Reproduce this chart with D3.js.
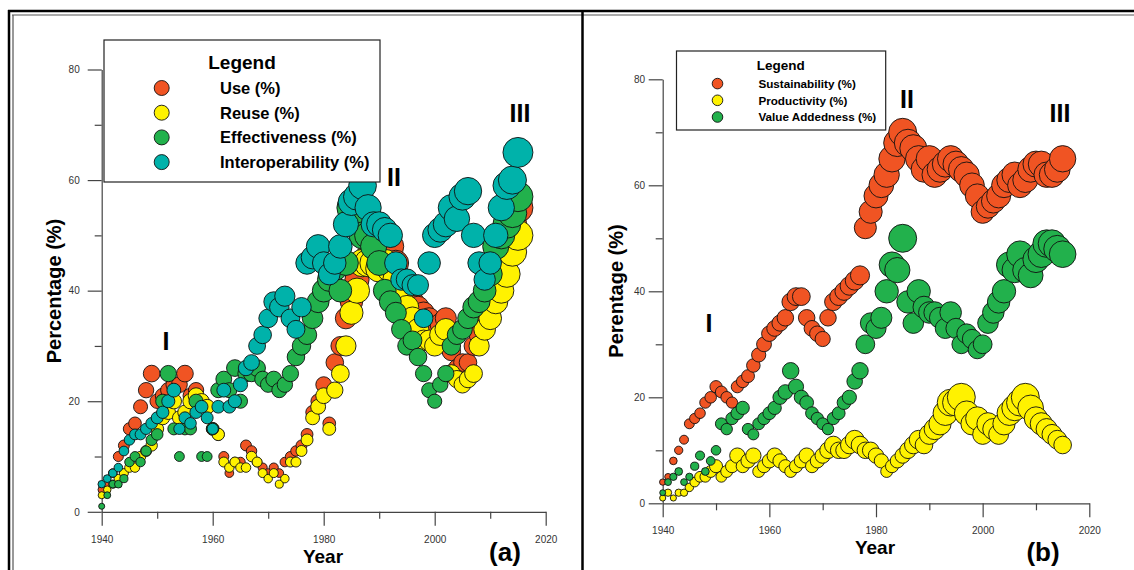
<!DOCTYPE html>
<html>
<head>
<meta charset="utf-8">
<script src="https://cdn.jsdelivr.net/npm/d3@7"></script>
<style>
  body { margin: 0; background: #fff; }
  svg { display: block; font-family: "Liberation Sans", Arial, sans-serif; }
</style>
</head>
<body>
<script>
// one bubble per year, 1940 - 2015
const years = d3.range(1940, 2016)

// panel (a)
const useVals = [4,5,7,10,12,15,16,19,22,25, 20,21,22,23,23,25,21,22,20,19, 15,14,10,7,9,9,12,11,9,8,
  7,8,7,9,10,11,12,14,18,20, 23,16,27,30,35,38,42,45,46,46, 47,47,48,45,42,40,38,37,36,35,
  33,34,35,29,26,27,27,30,32,34, 37,42,46,50,52,55]
const reuseVals = [3,4,5,6,7,8,8,10,11,12, 15,17,18,20,17,18,20,21,20,19, 15,14,9,8,9,8,8,10,9,7,
  6,7,5,6,9,9,11,13,17,19, 21,15,22,25,30,36,40,45,45,45, 44,45,44,42,40,37,35,33,31,31,
  30,32,33,25,24,23,24,25,30,33, 35,38,40,43,47,50]
const effVals = [1,3,5,5,6,9,10,9,11,13, 14,20,25,15,10,15,15,20,10,10, 15,22,24,22,26,20,25,25,26,24,
  23,24,22,23,25,28,30,32,35,38, 40,42,44,40,45,55,53,50,50,48, 45,40,38,36,33,30,31,28,25,22,
  20,23,25,30,32,33,35,37,38,40, 43,48,50,52,54,57]
const interVals = [5,6,7,8,11,13,14,14,15,16, 17,18,20,22,15,17,16,18,19,17, 15,19,22,19,20,23,26,27,30,32,
  35,38,37,39,35,33,37,45,46,48, 45,43,45,48,52,56,57,59,55,52, 52,51,50,45,42,42,41,41,35,45,
  50,51,52,55,53,57,58,50,45,42, 45,50,55,59,60,65]

// panel (b)
const sustVals = [4,5,8,10,12,15,16,17,19,20, 22,21,20,19,22,23,24,26,28,30, 32,33,34,35,38,39,39,35,33,32,
  31,35,38,39,40,41,42,43,52,55, 58,60,62,65,68,70,68,67,65,63, 65,62,63,64,65,64,63,62,60,58,
  55,56,57,58,60,61,62,60,61,63, 64,64,62,62,63,65]
const prodVals = [1,2,1,2,2,3,4,5,5,6, 7,5,6,7,9,7,8,9,6,7, 8,9,8,7,6,7,8,9,7,8,
  9,10,11,10,10,11,12,11,10,10, 9,8,6,7,8,9,10,11,12,11, 13,14,15,17,19,19,20,17,15,16,
  13,15,14,13,15,17,18,19,20,18, 16,15,14,13,12,11]
const valueVals = [2,4,5,6,4,5,7,9,6,8, 10,15,14,16,17,18,14,13,15,16, 17,18,20,21,25,22,20,19,17,16,
  15,14,16,17,19,20,23,25,30,34, 33,35,40,45,44,50,38,34,40,37, 36,36,35,33,36,33,30,32,31,29,
  30,34,36,38,40,45,44,47,44,43, 46,47,49,49,48,47]

const xMajor = [1940, 1960, 1980, 2000, 2020]
const xMinor = [1950, 1970, 1990, 2010]
const yMajor = [0, 20, 40, 60, 80]
const yMinor = [10, 30, 50, 70]

const red = '#f05423', yellow = '#fff200', green = '#22b14c', teal = '#00b2aa'

const width = 1134
const height = 570
const svg = d3.select('body').append('svg').attr('width', width).attr('height', height)

// frame lines
svg.append('line').attr('x1', 8).attr('x2', width).attr('y1', 11).attr('y2', 11).attr('stroke', '#000').attr('stroke-width', 2.5)
svg.append('line').attr('x1', 12).attr('x2', width).attr('y1', 15).attr('y2', 15).attr('stroke', '#555').attr('stroke-width', 1.2)
svg.append('line').attr('x1', 9).attr('x2', 9).attr('y1', 10).attr('y2', height).attr('stroke', '#000').attr('stroke-width', 2.5)
svg.append('line').attr('x1', 13).attr('x2', 13).attr('y1', 15).attr('y2', height).attr('stroke', '#555').attr('stroke-width', 1.2)
svg.append('line').attr('x1', 582.5).attr('x2', 582.5).attr('y1', 10).attr('y2', height).attr('stroke', '#000').attr('stroke-width', 2.5)

const drawPanel = (p) => {
  const x = d3.scaleLinear().domain([1940, 2020]).range([p.left, p.right])
  const y = d3.scaleLinear().domain([0, 80]).range([p.bottom, p.top])
  const g = svg.append('g')

  const styleAxis = (a) => {
    a.selectAll('path, line').attr('stroke', '#444').attr('stroke-width', 1.2)
    a.selectAll('text').attr('font-size', 10).attr('fill', '#333').attr('font-family', '"Liberation Sans", Arial, sans-serif')
  }

  g.append('g').attr('transform', `translate(0,${p.bottom})`)
    .call(d3.axisBottom(x).tickValues(xMajor).tickSize(14).tickSizeOuter(0).tickPadding(10).tickFormat(d3.format('d')))
    .call(styleAxis)
  g.append('g').attr('transform', `translate(0,${p.bottom})`)
    .call(d3.axisBottom(x).tickValues(xMinor).tickSize(7).tickSizeOuter(0).tickFormat(''))
    .call(a => a.select('.domain').remove())
    .call(styleAxis)
  g.append('g').attr('transform', `translate(${p.left},0)`)
    .call(d3.axisLeft(y).tickValues(yMajor).tickSize(14).tickSizeOuter(0).tickPadding(p.yPad))
    .call(styleAxis)
  g.append('g').attr('transform', `translate(${p.left},0)`)
    .call(d3.axisLeft(y).tickValues(yMinor).tickSize(7).tickSizeOuter(0).tickFormat(''))
    .call(a => a.select('.domain').remove())
    .call(styleAxis)

  // bubbles, size grows with the value inside each series
  p.series.forEach((s) => {
    const r = d3.scaleLinear().domain([0, d3.max(s.values)]).range(p.rRange)
    g.append('g').selectAll('circle')
      .data(years.map((yr, i) => ({ yr: yr, v: s.values[i] })))
      .enter().append('circle')
      .attr('cx', (d) => x(d.yr))
      .attr('cy', (d) => y(d.v))
      .attr('r', (d) => r(d.v))
      .attr('fill', s.color)
      .attr('stroke', '#111')
      .attr('stroke-width', 0.9)
  })

  // axis titles
  g.append('text').text('Year').attr('x', p.yearX).attr('y', p.yearY)
    .attr('text-anchor', 'middle').attr('font-size', 19).attr('font-weight', 'bold')
  g.append('text').text(p.yTitle)
    .attr('transform', `translate(${p.yTitleX},${p.yTitleY}) rotate(-90)`)
    .attr('text-anchor', 'middle').attr('font-size', 20).attr('font-weight', 'bold')
  g.append('text').text(p.tag).attr('x', p.tagX).attr('y', 561)
    .attr('text-anchor', 'middle').attr('font-size', 26).attr('font-weight', 'bold')

  // phase marks
  p.marks.forEach((m) => {
    g.append('text').text(m.t).attr('x', m.x).attr('y', m.y + 9)
      .attr('text-anchor', 'middle').attr('font-size', 25).attr('font-weight', 'bold')
  })

  // legend
  const L = p.legend
  g.append('rect').attr('x', L.x0).attr('y', L.y0).attr('width', L.x1 - L.x0).attr('height', L.y1 - L.y0)
    .attr('fill', '#fff').attr('stroke', '#222').attr('stroke-width', 1.2)
  g.append('text').text('Legend').attr('x', L.titleX).attr('y', L.titleY)
    .attr('text-anchor', 'middle').attr('font-size', L.titleSize).attr('font-weight', 'bold')
  p.series.forEach((s, i) => {
    const cy = L.firstY + i * L.step
    g.append('circle').attr('cx', L.dotX).attr('cy', cy).attr('r', L.dotR)
      .attr('fill', s.color).attr('stroke', '#111').attr('stroke-width', 0.9)
    g.append('text').text(s.name).attr('x', L.textX).attr('y', cy + L.itemSize * 0.36)
      .attr('font-size', L.itemSize).attr('font-weight', 'bold')
  })
}

drawPanel({
  left: 101.7, right: 545.7, top: 69.5, bottom: 511.8, yPad: 8,
  rRange: [2.8, 15],
  series: [
    { name: 'Use (%)', values: useVals, color: red },
    { name: 'Reuse (%)', values: reuseVals, color: yellow },
    { name: 'Effectiveness (%)', values: effVals, color: green },
    { name: 'Interoperability (%)', values: interVals, color: teal }
  ],
  yearX: 323, yearY: 563, yTitle: 'Percentage (%)', yTitleX: 61, yTitleY: 291,
  tag: '(a)', tagX: 505,
  marks: [{ t: 'I', x: 166, y: 341 }, { t: 'II', x: 394, y: 177 }, { t: 'III', x: 520, y: 113 }],
  legend: { x0: 104, x1: 380, y0: 40, y1: 182, titleX: 242, titleY: 69, titleSize: 19,
    dotX: 161.7, dotR: 7.5, firstY: 88, step: 24.7, textX: 220, itemSize: 16.5 }
})

drawPanel({
  left: 662.7, right: 1089.3, top: 79.3, bottom: 503.3, yPad: 3.7,
  rRange: [2.5, 14],
  series: [
    { name: 'Sustainability (%)', values: sustVals, color: red },
    { name: 'Productivity (%)', values: prodVals, color: yellow },
    { name: 'Value Addedness (%)', values: valueVals, color: green }
  ],
  yearX: 875, yearY: 554, yTitle: 'Perentage (%)', yTitleX: 623, yTitleY: 291,
  tag: '(b)', tagX: 1043,
  marks: [{ t: 'I', x: 709, y: 323 }, { t: 'II', x: 907, y: 99 }, { t: 'III', x: 1060, y: 113 }],
  legend: { x0: 676.5, x1: 885.7, y0: 51, y1: 130, titleX: 780.7, titleY: 70, titleSize: 13.5,
    dotX: 717.5, dotR: 5.3, firstY: 83.6, step: 16.7, textX: 758.4, itemSize: 11.7 }
})
</script>
</body>
</html>
